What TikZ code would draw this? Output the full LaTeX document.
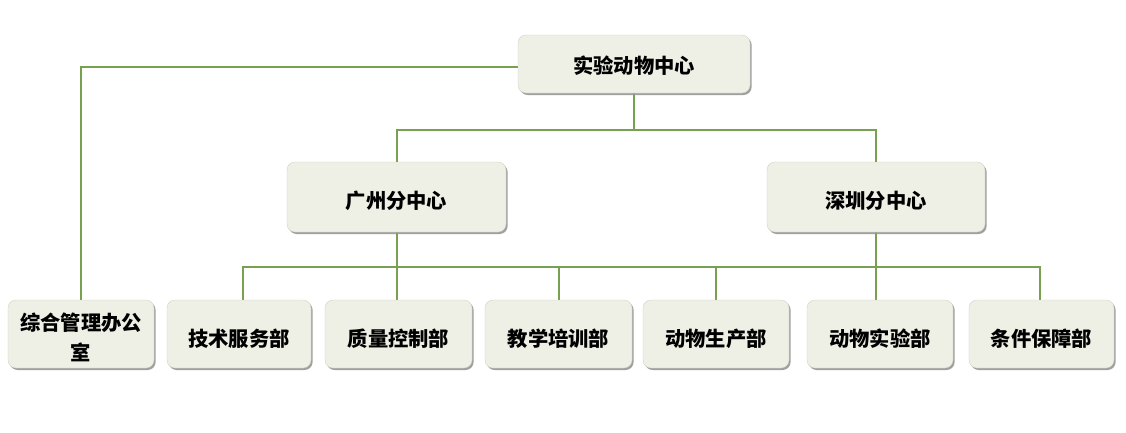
\documentclass[tikz,border=0pt]{standalone}
\usepackage{fontspec}
\newfontfamily\cjk{Noto Sans CJK SC}
\usetikzlibrary{backgrounds,shadows}
\definecolor{boxfill}{RGB}{238,240,230}
\definecolor{linegreen}{RGB}{119,160,80}
\definecolor{shadowgray}{RGB}{150,150,150}
\tikzset{
  orgbox/.style={fill=boxfill, draw=boxfill!85!black, line width=0.3pt, rounded corners=8pt,
    inner sep=0pt, align=center, font=\cjk\bfseries\fontsize{20.3}{30}\selectfont,
    drop shadow={shadow xshift=1.6pt, shadow yshift=-2pt, fill=shadowgray, opacity=0.9}},
  tdown/.style={text height=#1, text depth=0pt},
  link/.style={draw=linegreen, line width=2pt}
}
\begin{document}
\begin{tikzpicture}[x=1pt,y=-1pt]
\useasboundingbox (0,0) rectangle (1126,432);
\node[orgbox, tdown=18.6pt, minimum width=232pt, minimum height=58pt] (top) at (634,64) {实验动物中心};
\node[orgbox, tdown=23.2pt, minimum width=219pt, minimum height=70pt] (gz) at (396.5,197) {广州分中心};
\node[orgbox, tdown=23.2pt, minimum width=218pt, minimum height=70pt] (sz) at (876,197) {深圳分中心};
\node[orgbox, minimum width=146pt, minimum height=68pt] (zh) at (81,334) {\rule{0pt}{24pt}综合管理办公\\室};
\node[orgbox, tdown=25pt, minimum width=144pt, minimum height=68pt] (js) at (239,334) {技术服务部};
\node[orgbox, tdown=25pt, minimum width=147pt, minimum height=68pt] (zl) at (398.5,334) {质量控制部};
\node[orgbox, tdown=25pt, minimum width=147pt, minimum height=68pt] (jx) at (558.5,334) {教学培训部};
\node[orgbox, tdown=25pt, minimum width=146pt, minimum height=68pt] (sc) at (716,334) {动物生产部};
\node[orgbox, tdown=25pt, minimum width=146pt, minimum height=68pt] (sy) at (880,334) {动物实验部};
\node[orgbox, tdown=25pt, minimum width=145pt, minimum height=68pt] (tj) at (1041.5,334) {条件保障部};
\coordinate (b1) at (634,130);
\coordinate (b2) at (640,267);
\begin{pgfonlayer}{background}
\draw[link] ([yshift=-3pt]top.west) -| (zh.north);
\draw[link] (top.south) -- (b1);
\draw[link] (gz.north) |- (b1) -| (sz.north);
\draw[link] (gz.south) -- (gz.south |- zl.north);
\draw[link] (sz.south) -- (sz.south |- sy.north);
\draw[link] ([xshift=4pt]js.north) |- (b2) -| ([xshift=-1.5pt]tj.north);
\draw[link] (jx.north) -- (jx.north |- b2);
\draw[link] (sc.north) -- (sc.north |- b2);
\end{pgfonlayer}
\end{tikzpicture}
\end{document}
